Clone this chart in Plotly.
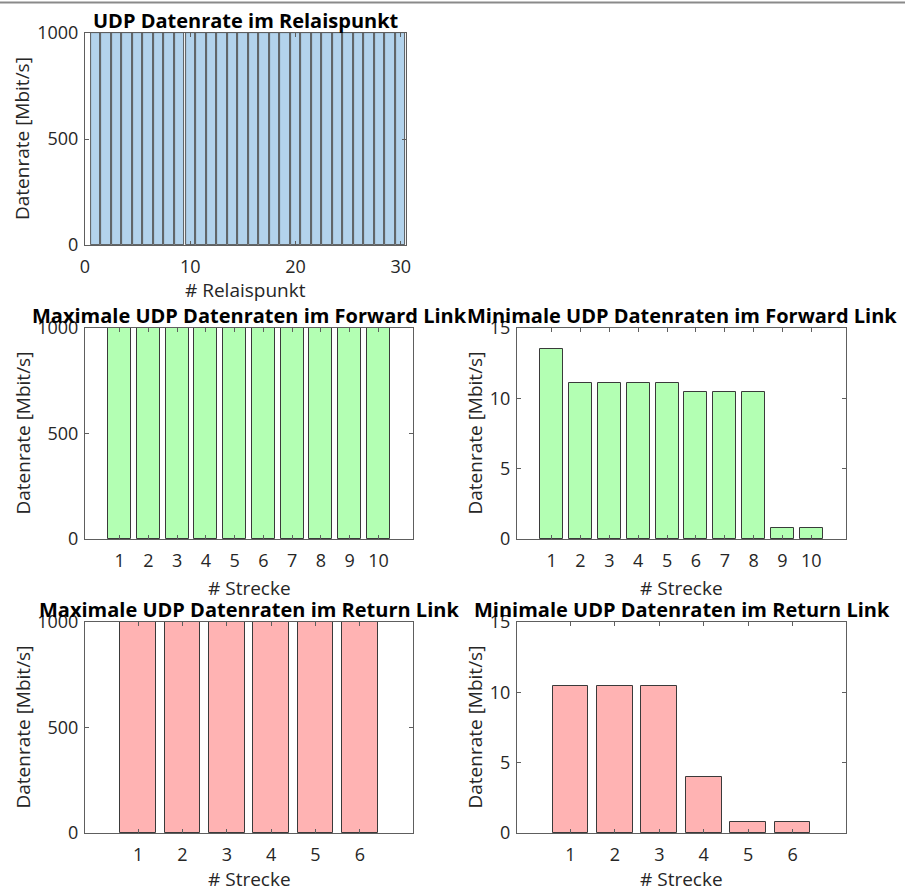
import plotly.graph_objects as go

# --- data -----------------------------------------------------------------
relais_ids = list(range(1, 31))
relais_rate = [1000] * 30

fwd_ids = list(range(1, 11))
fwd_max = [1000] * 10
fwd_min = [13.5, 11.1, 11.1, 11.1, 11.1, 10.45, 10.45, 10.45, 0.8, 0.8]

ret_ids = list(range(1, 7))
ret_max = [1000] * 6
ret_min = [10.45, 10.45, 10.45, 4.0, 0.8, 0.8]

titles = [
    "UDP Datenrate im Relaispunkt",
    "Maximale UDP Datenraten im Forward Link",
    "Minimale UDP Datenraten im Forward Link",
    "Maximale UDP Datenraten im Return Link",
    "Minimale UDP Datenraten im Return Link",
]
ylabel = "Datenrate [Mbit/s]"
xlabels = ["# Relaispunkt", "# Strecke", "# Strecke", "# Strecke", "# Strecke"]

BLUE = "#b3d3ec"
GREEN = "#b3ffb3"
RED = "#ffb3b3"

W, H = 905, 892
FONT = "Open Sans"

# pixel boxes of the panels: (left, right, top, bottom)
boxes = [
    (85, 406, 33, 245),
    (85, 413, 328, 539),
    (517, 846, 328, 539),
    (85, 413, 622, 833),
    (517, 846, 622, 833),
]
xtitle_gap = [45, 49, 49, 46, 46]

panels = [
    dict(x=relais_ids, y=relais_rate, color=BLUE, width=0.9, edge="#333333",
         ew=0.8, xr=[0, 30.5], xt=[0, 10, 20, 30], yr=[0, 1000],
         yt=[0, 500, 1000]),
    dict(x=fwd_ids, y=fwd_max, color=GREEN, width=0.8, edge="#3a3a3a",
         ew=1, xr=[-0.2, 11.2], xt=fwd_ids, yr=[0, 1000], yt=[0, 500, 1000]),
    dict(x=fwd_ids, y=fwd_min, color=GREEN, width=0.8, edge="#3a3a3a",
         ew=1, xr=[-0.2, 11.2], xt=fwd_ids, yr=[0, 15], yt=[0, 5, 10, 15]),
    dict(x=ret_ids, y=ret_max, color=RED, width=0.8, edge="#3a3a3a",
         ew=1, xr=[-0.2, 7.2], xt=ret_ids, yr=[0, 1000], yt=[0, 500, 1000]),
    dict(x=ret_ids, y=ret_min, color=RED, width=0.8, edge="#3a3a3a",
         ew=1, xr=[-0.2, 7.2], xt=ret_ids, yr=[0, 15], yt=[0, 5, 10, 15]),
]

fig = go.Figure()
layout = {}
annotations = []

for i, (p, box) in enumerate(zip(panels, boxes)):
    n = "" if i == 0 else str(i + 1)
    l, r, t, b = box
    xd = [l / W, r / W]
    yd = [1 - b / H, 1 - t / H]

    fig.add_trace(go.Bar(
        x=p["x"], y=p["y"], width=p["width"],
        marker=dict(color=p["color"], line=dict(color=p["edge"], width=p["ew"])),
        xaxis="x" + n, yaxis="y" + n, showlegend=False,
    ))

    common = dict(
        showline=True, linecolor="#5e5e5e", linewidth=1, mirror="ticks",
        ticks="inside", ticklen=4, tickcolor="#5e5e5e", tickwidth=1,
        showgrid=False, zeroline=False, layer="above traces",
        tickfont=dict(family=FONT, size=18, color="#262626"),
        fixedrange=True, automargin=False,
    )
    layout["xaxis" + n] = dict(
        common, domain=xd, range=p["xr"], tickmode="array", tickvals=p["xt"],
        anchor="y" + n, ticklabelstandoff=5,
    )
    layout["yaxis" + n] = dict(
        common, domain=yd, range=p["yr"], tickmode="array", tickvals=p["yt"],
        anchor="x" + n, ticklabelstandoff=2,
    )

    cx = (l + r) / 2 / W
    # panel title
    annotations.append(dict(
        text="<b>" + titles[i] + "</b>", x=cx, y=1 - t / H, xref="paper",
        yref="paper", xanchor="center", yanchor="bottom", showarrow=False,
        font=dict(family=FONT, size=20, color="black"), yshift=-3,
    ))
    # x-axis title
    annotations.append(dict(
        text=xlabels[i], x=cx, y=1 - (b + xtitle_gap[i]) / H, xref="paper",
        yref="paper", xanchor="center", yanchor="middle", showarrow=False,
        font=dict(family=FONT, size=19, color="#262626"),
    ))
    # y-axis title
    ylx = 22 if l < 200 else 474
    annotations.append(dict(
        text=ylabel, x=ylx / W, y=1 - (t + b) / 2 / H, xref="paper",
        yref="paper", xanchor="center", yanchor="middle", showarrow=False,
        textangle=-90, font=dict(family=FONT, size=19, color="#262626"),
    ))

fig.update_layout(
    **layout,
    annotations=annotations,
    template="none",
    width=W, height=H,
    margin=dict(l=0, r=0, t=0, b=0, autoexpand=False),
    paper_bgcolor="white", plot_bgcolor="white",
    bargap=0,
    shapes=[dict(type="line", xref="paper", yref="paper", x0=0, x1=1,
                 y0=1 - 2.5 / H, y1=1 - 2.5 / H,
                 line=dict(color="#8a8a8a", width=2))],
)

fig.write_html("out.html")
